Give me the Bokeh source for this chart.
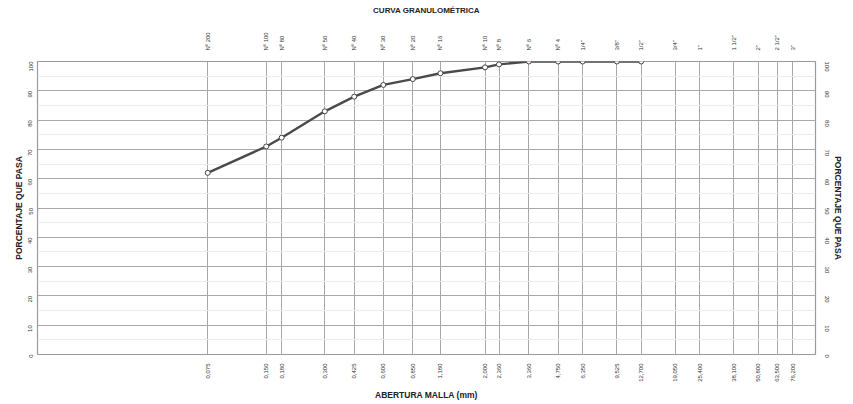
import math
from bokeh.plotting import figure
from bokeh.models import Range1d, LogAxis, LinearAxis, FixedTicker, ColumnDataSource
from bokeh.embed import file_html
from bokeh.resources import INLINE

# Sieve openings (mm) and their names
sieve_mm = [0.075, 0.150, 0.180, 0.300, 0.425, 0.600, 0.850, 1.180, 2.000, 2.360,
            3.360, 4.750, 6.350, 9.525, 12.700, 19.050, 25.400, 38.100, 50.800,
            63.500, 76.200]
sieve_names = ["Nº 200", "Nº 100", "Nº 80", "Nº 50", "Nº 40", "Nº 30", "Nº 20",
               "Nº 16", "Nº 10", "Nº 8", "Nº 6", "Nº 4", '1/4"', '3/8"', '1/2"',
               '3/4"', '1"', '1 1/2"', '2"', '2 1/2"', '3"']
size_labels = ["0,075", "0,150", "0,180", "0,300", "0,425", "0,600", "0,850",
               "1,180", "2,000", "2,360", "3,360", "4,750", "6,350", "9,525",
               "12,700", "19,050", "25,400", "38,100", "50,800", "63,500", "76,200"]

# Test results
test_mm = [0.075, 0.150, 0.180, 0.300, 0.425, 0.600, 0.850, 1.180, 2.000, 2.360,
           3.360, 4.750, 6.350, 9.525, 12.700]
pct_passing = [62, 71, 74, 83, 88, 92, 94, 96, 98, 99, 100, 100, 100, 100, 100]

y_ticks = [0, 10, 20, 30, 40, 50, 60, 70, 80, 90, 100]
y_minor = [5, 15, 25, 35, 45, 55, 65, 75, 85, 95]

TXT = "#333333"
FONT = "Liberation Sans"

p = figure(width=853, height=404, x_axis_type="log",
           x_range=Range1d(0.01, 100), y_range=Range1d(0, 100),
           output_backend="svg", toolbar_location=None,
           min_border_left=37, min_border_right=38, min_border_top=61,
           min_border_bottom=50)
p.background_fill_color = "white"
p.border_fill_color = "white"
p.outline_line_color = "#9a9a9a"
p.outline_line_width = 1.2

# Grids
p.xgrid.ticker = FixedTicker(ticks=sieve_mm)
p.xgrid.grid_line_color = "#a8a8a8"
p.xgrid.grid_line_width = 1
p.ygrid.ticker = FixedTicker(ticks=y_ticks, minor_ticks=y_minor)
p.ygrid.grid_line_color = "#a8a8a8"
p.ygrid.grid_line_width = 1
p.ygrid.minor_grid_line_color = "#ececec"
p.ygrid.minor_grid_line_width = 1


def style_axis(ax, fs="6px"):
    ax.axis_line_color = None
    ax.major_tick_line_color = None
    ax.minor_tick_line_color = None
    ax.major_label_text_font = FONT
    ax.major_label_text_font_size = fs
    ax.major_label_text_color = TXT
    ax.axis_label_text_font = "Liberation Sans"
    ax.axis_label_text_font_style = "bold"
    ax.axis_label_text_font_size = "8.5px"
    ax.axis_label_text_color = "#222222"


# Bottom axis: openings
xb = p.xaxis[0]
xb.ticker = FixedTicker(ticks=sieve_mm, minor_ticks=[])
xb.major_label_overrides = {v: s for v, s in zip(sieve_mm, size_labels)}
style_axis(xb)
xb.major_label_orientation = math.pi / 2
xb.major_label_standoff = 3
xb.axis_label = "ABERTURA MALLA (mm)"
xb.axis_label_standoff = 5

# Top axis: sieve names + title
xt = LogAxis(ticker=FixedTicker(ticks=sieve_mm, minor_ticks=[]))
xt.major_label_overrides = {v: s for v, s in zip(sieve_mm, sieve_names)}
style_axis(xt)
xt.major_label_orientation = math.pi / 2
xt.major_label_standoff = 5
xt.axis_label = "CURVA GRANULOMÉTRICA"
xt.axis_label_text_font_size = "8px"
xt.axis_label_standoff = 14
p.add_layout(xt, "above")

# Left axis
yl = p.yaxis[0]
yl.ticker = FixedTicker(ticks=y_ticks, minor_ticks=[])
style_axis(yl, "6px")
yl.major_label_orientation = math.pi / 2
yl.major_label_standoff = 1
yl.axis_label = "PORCENTAJE QUE PASA"
yl.axis_label_standoff = 0

# Right axis
yr = LinearAxis(ticker=FixedTicker(ticks=y_ticks, minor_ticks=[]))
style_axis(yr, "6px")
yr.major_label_orientation = -math.pi / 2
yr.major_label_standoff = 5
yr.axis_label = "PORCENTAJE QUE PASA"
yr.axis_label_standoff = -1
p.add_layout(yr, "right")

src = ColumnDataSource(dict(x=test_mm, y=pct_passing))
p.line("x", "y", source=src, line_color="#4a4a4a", line_width=2.4)
p.scatter("x", "y", source=src, size=5, marker="circle",
          fill_color="white", line_color="#444444", line_width=1)

open("out.html", "w").write(file_html(p, INLINE))
